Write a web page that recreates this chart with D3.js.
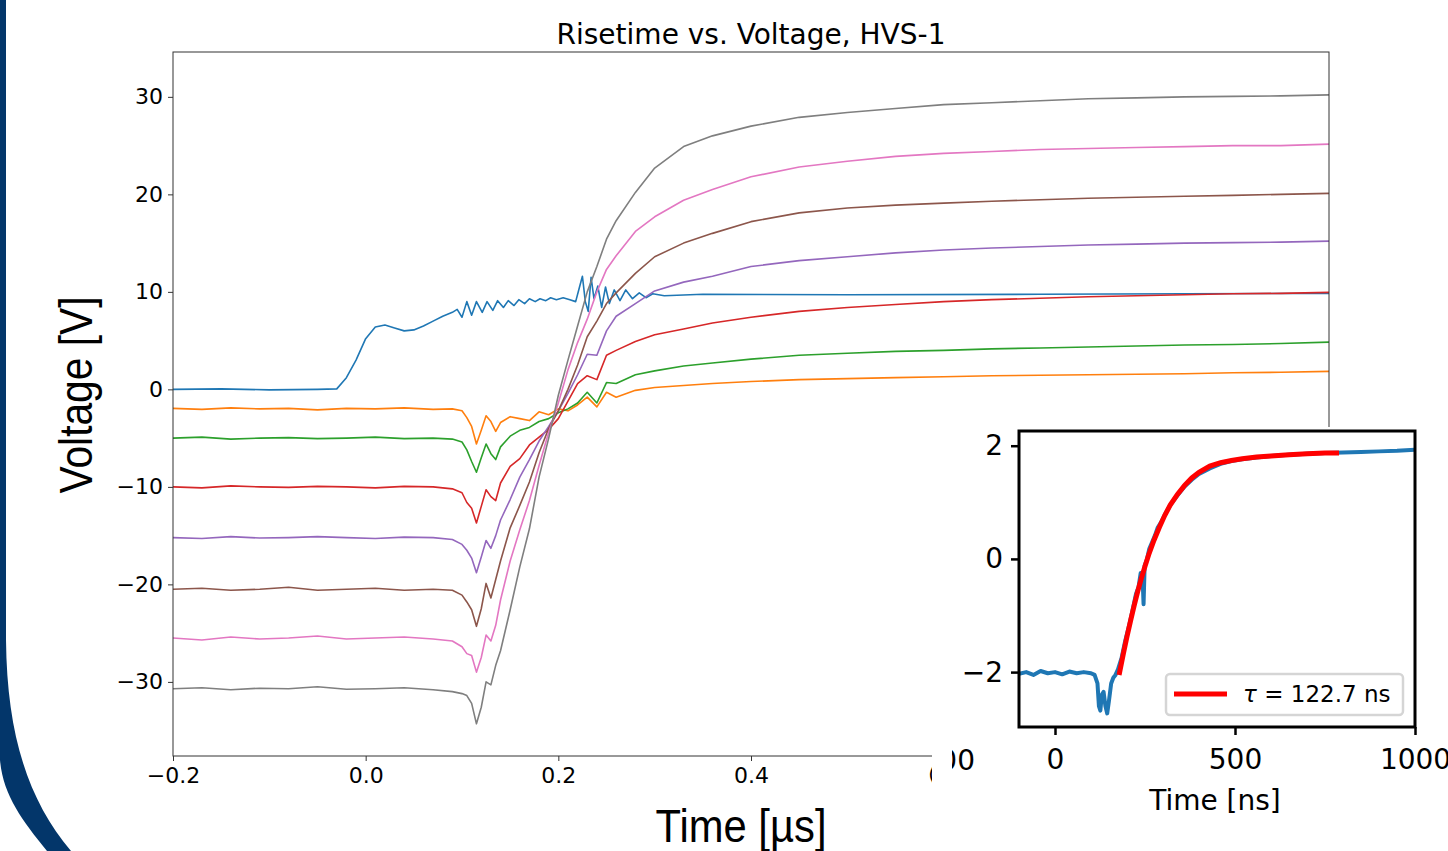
<!DOCTYPE html>
<html lang="en">
<head>
<meta charset="UTF-8">
<title>Risetime vs. Voltage, HVS-1</title>
<script src="https://d3js.org/d3.v7.min.js"></script>
<style>
  body { margin: 0; background: #fff; }
  svg text { font-family: "DejaVu Sans", sans-serif; fill: #000; }
</style>
</head>
<body>
<div id="chart"></div>
<script>
// ---- data ----
const timeUs = [-0.20, -0.17, -0.14, -0.11, -0.08, -0.05, -0.02, 0.01, 0.04, 0.07,
  0.09, 0.10, 0.105, 0.11, 0.115, 0.12, 0.125, 0.13, 0.135, 0.14,
  0.15, 0.16, 0.17, 0.18, 0.19, 0.20, 0.21, 0.22, 0.23, 0.24,
  0.25, 0.26, 0.28, 0.30, 0.33, 0.36, 0.40, 0.45, 0.50, 0.55,
  0.60, 0.65, 0.70, 0.75, 0.80, 0.85, 0.90, 0.95, 1.00]

const orangeV = [-1.95, -2.05, -1.9, -2.0, -1.95, -2.1, -1.95, -2.0, -1.9, -2.05,
  -2.0, -2.2, -2.9, -3.8, -5.6, -4.2, -2.7, -3.3, -4.3, -3.4,
  -2.8, -3.0, -3.2, -2.3, -2.6, -2.0, -2.2, -1.6, -0.8, -1.8,
  -0.3, -0.8, -0.1, 0.2, 0.4, 0.6, 0.8, 1.0, 1.1, 1.2,
  1.3, 1.4, 1.45, 1.5, 1.55, 1.6, 1.7, 1.75, 1.85]
const greenV = [-5.0, -4.9, -5.1, -5.0, -4.95, -5.05, -5.0, -4.9, -5.05, -5.0,
  -5.1, -5.4, -6.2, -7.4, -8.5, -7.0, -5.6, -6.6, -7.2, -5.9,
  -4.8, -4.2, -3.9, -3.3, -3.0, -2.4, -2.0, -1.4, -0.3, -1.4,
  0.7, 0.6, 1.5, 1.9, 2.4, 2.7, 3.1, 3.5, 3.7, 3.9,
  4.0, 4.15, 4.25, 4.35, 4.45, 4.55, 4.6, 4.7, 4.85]
const redV = [-10.0, -10.1, -9.9, -10.0, -10.05, -9.95, -10.0, -10.1, -9.95, -10.0,
  -10.2, -10.6, -11.6, -12.2, -13.7, -12.0, -10.3, -11.0, -11.4, -9.6,
  -7.9, -7.1, -5.7, -4.9, -4.1, -3.0, -1.2, 0.6, 1.4, 1.0,
  3.5, 4.0, 4.9, 5.6, 6.2, 6.8, 7.4, 8.0, 8.4, 8.7,
  9.0, 9.2, 9.35, 9.5, 9.6, 9.7, 9.8, 9.85, 9.95]
const purpleV = [-15.2, -15.3, -15.1, -15.25, -15.2, -15.1, -15.2, -15.3, -15.15, -15.2,
  -15.4, -15.9, -16.5, -17.3, -18.8, -17.2, -15.5, -16.3, -15.0, -13.4,
  -11.3, -9.0, -7.2, -5.3, -3.8, -2.2, -0.4, 1.5, 3.6, 3.5,
  6.0, 7.5, 8.8, 10.1, 11.0, 11.6, 12.6, 13.2, 13.6, 14.0,
  14.3, 14.5, 14.65, 14.8, 14.9, 15.0, 15.05, 15.1, 15.2]
const brownV = [-20.5, -20.4, -20.6, -20.5, -20.3, -20.6, -20.5, -20.4, -20.6, -20.5,
  -20.6, -21.1, -21.8, -22.6, -24.3, -22.5, -19.9, -21.4, -19.5, -17.6,
  -14.2, -11.9, -9.5, -6.5, -4.0, -2.2, 0.0, 2.5, 5.4, 7.0,
  8.8, 9.9, 11.9, 13.6, 15.0, 16.0, 17.2, 18.1, 18.6, 18.9,
  19.1, 19.3, 19.45, 19.6, 19.7, 19.8, 19.9, 20.0, 20.1]
const pinkV = [-25.5, -25.7, -25.4, -25.6, -25.5, -25.3, -25.6, -25.5, -25.4, -25.6,
  -25.8, -26.4, -27.1, -27.3, -29.0, -27.5, -25.2, -25.8, -24.2, -21.6,
  -17.6, -14.4, -11.4, -7.8, -4.4, -1.4, 2.0, 4.8, 7.2, 10.0,
  12.3, 13.7, 16.2, 17.7, 19.4, 20.5, 21.8, 22.8, 23.4, 23.9,
  24.2, 24.4, 24.6, 24.7, 24.8, 24.9, 25.0, 25.0, 25.15]
const grayV = [-30.7, -30.6, -30.8, -30.65, -30.7, -30.5, -30.75, -30.7, -30.6, -30.8,
  -31.0, -31.2, -31.4, -32.2, -34.3, -32.6, -30.0, -30.3, -28.3, -26.8,
  -22.6, -18.2, -14.3, -9.0, -5.0, -0.6, 3.0, 6.5, 10.0, 12.6,
  15.4, 17.3, 20.2, 22.7, 24.9, 26.0, 27.0, 27.9, 28.4, 28.8,
  29.2, 29.4, 29.6, 29.8, 29.9, 30.0, 30.05, 30.1, 30.2]

// the unbiased trace has its own sampling (ringing)
const blueTimeUs = [-0.20, -0.15, -0.10, -0.05, -0.03, -0.02, -0.01, 0.0, 0.01, 0.02,
  0.03, 0.04, 0.05, 0.06, 0.07, 0.08, 0.09, 0.095, 0.100, 0.105,
  0.110, 0.115, 0.121, 0.126, 0.132, 0.137, 0.143, 0.148, 0.154, 0.159,
  0.165, 0.170, 0.176, 0.181, 0.187, 0.192, 0.198, 0.205, 0.212, 0.218,
  0.222, 0.225, 0.228, 0.231, 0.234, 0.237, 0.241, 0.245, 0.249, 0.253,
  0.258, 0.264, 0.270, 0.277, 0.284, 0.291, 0.298, 0.31, 0.35, 0.50,
  0.70, 0.85, 1.00]
const blueV = [0.0, 0.05, -0.05, 0.0, 0.05, 1.2, 3.0, 5.2, 6.4, 6.6,
  6.3, 6.0, 6.1, 6.5, 7.0, 7.5, 7.9, 8.2, 7.4, 9.0,
  7.6, 9.0, 7.9, 9.0, 8.1, 9.1, 8.4, 9.1, 8.6, 9.2,
  8.8, 9.3, 9.0, 9.3, 9.1, 9.4, 9.2, 9.4, 9.2, 9.0,
  10.5, 11.6, 9.0, 8.0, 11.5, 9.3, 10.6, 8.4, 10.5, 8.8,
  10.2, 9.1, 10.2, 9.3, 9.9, 9.4, 9.8, 9.6, 9.75, 9.7,
  9.75, 9.8, 9.85]

const seriesNames = ["0 V", "2 V", "5 V", "10 V", "15 V", "20 V", "25 V", "30 V"]
const seriesColors = ["#1f77b4", "#ff7f0e", "#2ca02c", "#d62728", "#9467bd", "#8c564b", "#e377c2", "#7f7f7f"]

// inset: one trace in ns with its exponential fit
const insetTimeNs = [-100, -80, -60, -40, -20, 0, 20, 40, 60, 80,
  100, 110, 118, 122, 126, 130, 135, 140, 145, 150,
  156, 162, 168, 175, 185, 195, 205, 215, 225, 232,
  238, 243, 246, 249, 255, 262, 270, 278, 285, 295,
  305, 320, 340, 360, 380, 400, 430, 460, 490, 520,
  560, 600, 650, 700, 750, 800, 850, 900, 950, 1000]
const insetV = [-2.03, -2.0, -2.05, -1.98, -2.02, -2.0, -2.04, -1.99, -2.02, -2.0,
  -2.02, -2.05, -2.2, -2.6, -2.68, -2.4, -2.35, -2.6, -2.73, -2.5,
  -2.2, -2.1, -2.05, -1.95, -1.75, -1.45, -1.2, -0.92, -0.62, -0.5,
  -0.25, -0.28, -0.8, -0.12, -0.02, 0.18, 0.3, 0.42, 0.55, 0.65,
  0.78, 0.95, 1.12, 1.28, 1.4, 1.5, 1.6, 1.68, 1.73, 1.76,
  1.79, 1.82, 1.84, 1.86, 1.87, 1.88, 1.89, 1.9, 1.91, 1.93]
const fitTimeNs = [178, 190, 200, 210, 220, 230, 240, 250, 260, 275,
  290, 305, 320, 340, 360, 380, 400, 430, 460, 490,
  520, 560, 600, 650, 700, 750, 789]
const fitV = [-2.05, -1.67, -1.37, -1.09, -0.82, -0.57, -0.34, -0.13, 0.07, 0.33,
  0.56, 0.77, 0.95, 1.14, 1.30, 1.43, 1.53, 1.64, 1.70, 1.74,
  1.77, 1.80, 1.82, 1.84, 1.86, 1.87, 1.87]
const fitLabel = "122.7 ns"

const mainXTicks = [-0.2, 0.0, 0.2, 0.4, 0.6, 0.8, 1.0]
const mainYTicks = [-30, -20, -10, 0, 10, 20, 30]
const insetXTicks = [0, 500, 1000]
const insetYTicks = [-2, 0, 2]

// ---- layout ----
const W = 1448, H = 851
const MAIN = { LEFT: 173, RIGHT: 1329, TOP: 52, BOTTOM: 756 }
const INSET = { LEFT: 1019, RIGHT: 1415, TOP: 431, BOTTOM: 727 }

const svg = d3.select("#chart").append("svg")
  .attr("width", W).attr("height", H)
  .style("display", "block")

svg.append("rect").attr("width", W).attr("height", H).attr("fill", "#fff")

// slide border on the left
svg.append("path")
  .attr("d", "M0,0 L6,0 L6,640 C7,735 28,800 71,851 L47,851 C22,820 3,795 0,760 Z")
  .attr("fill", "#03366a")

// ---- main axes ----
const x = d3.scaleLinear().domain([-0.2, 1.0]).range([MAIN.LEFT, MAIN.RIGHT])
const y = d3.scaleLinear().domain([-37.6, 34.6]).range([MAIN.BOTTOM, MAIN.TOP])

const g = svg.append("g")

g.append("clipPath").attr("id", "mainClip")
  .append("rect")
  .attr("x", MAIN.LEFT).attr("y", MAIN.TOP)
  .attr("width", MAIN.RIGHT - MAIN.LEFT).attr("height", MAIN.BOTTOM - MAIN.TOP)

const line = d3.line().x(d => x(d[0])).y(d => y(d[1]))

const biased = [orangeV, greenV, redV, purpleV, brownV, pinkV, grayV]
const traces = [d3.zip(blueTimeUs, blueV)].concat(biased.map(v => d3.zip(timeUs, v)))

g.append("g").attr("clip-path", "url(#mainClip)")
  .selectAll("path").data(traces).join("path")
  .attr("d", line)
  .attr("fill", "none")
  .attr("stroke", (d, i) => seriesColors[i])
  .attr("stroke-width", 1.6)
  .attr("stroke-linejoin", "round")

g.append("rect")
  .attr("x", MAIN.LEFT).attr("y", MAIN.TOP)
  .attr("width", MAIN.RIGHT - MAIN.LEFT).attr("height", MAIN.BOTTOM - MAIN.TOP)
  .attr("fill", "none").attr("stroke", "#333").attr("stroke-width", 1)

// only the ticks left of the inset show; 0.6 is cut by the pasted inset
const xAxis = g.append("g")
  .attr("transform", `translate(0,${MAIN.BOTTOM})`)
  .call(d3.axisBottom(x).tickValues(mainXTicks.filter(v => x(v) < 950)).tickFormat(d3.format(".1f")).tickSize(5).tickPadding(6))
const yAxis = g.append("g")
  .attr("transform", `translate(${MAIN.LEFT},0)`)
  .call(d3.axisLeft(y).tickValues(mainYTicks).tickSize(5).tickPadding(5))
for (const a of [xAxis, yAxis]) {
  a.select(".domain").remove()
  a.selectAll("line").attr("stroke", "#333")
  a.selectAll("text").style("font-size", "22px").style("font-family", "DejaVu Sans")
}
// the tick label under the inset keeps only its left sliver
xAxis.selectAll(".tick").filter(d => x(d) > 932).select("text").text("(")
  .attr("dx", "-12px").style("font-size", "20px")

g.append("text")
  .attr("x", (MAIN.LEFT + MAIN.RIGHT) / 2).attr("y", 44)
  .attr("text-anchor", "middle")
  .style("font-size", "28px")
  .text("Risetime vs. Voltage, HVS-1")

// condensed axis labels
function narrowLabel(cx, cy, rot, txt, targetW) {
  const t = g.append("text")
    .attr("text-anchor", "middle")
    .style("font-family", "Liberation Sans, Arial, sans-serif")
    .style("font-size", "46px")
    .text(txt)
  const sx = targetW / t.node().getComputedTextLength()
  t.attr("transform", `translate(${cx},${cy}) rotate(${rot}) scale(${sx},1)`)
}
narrowLabel(741, 842, 0, "Time [µs]", 171)
narrowLabel(92, 395, -90, "Voltage [V]", 197)

// ---- inset ----
svg.append("rect").attr("x", 932).attr("y", 427).attr("width", W - 932).attr("height", H - 427).attr("fill", "#fff")

// stray tick label fragment from the cropped inset figure
svg.append("clipPath").attr("id", "fragClip")
  .append("rect").attr("x", 952).attr("y", 730).attr("width", 40).attr("height", 50)
svg.append("text").attr("clip-path", "url(#fragClip)")
  .attr("x", 975).attr("y", 770).attr("text-anchor", "end")
  .style("font-size", "28px").text("00")

const xi = d3.scaleLinear().domain([-100, 1000]).range([INSET.LEFT, INSET.RIGHT])
const yi = d3.scaleLinear().domain([-2.97, 2.26]).range([INSET.BOTTOM, INSET.TOP])
const gi = svg.append("g")

gi.append("clipPath").attr("id", "insetClip")
  .append("rect")
  .attr("x", INSET.LEFT).attr("y", INSET.TOP)
  .attr("width", INSET.RIGHT - INSET.LEFT).attr("height", INSET.BOTTOM - INSET.TOP)

const lineI = d3.line().x(d => xi(d[0])).y(d => yi(d[1]))
const gl = gi.append("g").attr("clip-path", "url(#insetClip)")
gl.append("path").datum(d3.zip(insetTimeNs, insetV))
  .attr("d", lineI).attr("fill", "none")
  .attr("stroke", seriesColors[0]).attr("stroke-width", 4).attr("stroke-linejoin", "round")
gl.append("path").datum(d3.zip(fitTimeNs, fitV))
  .attr("d", lineI).attr("fill", "none")
  .attr("stroke", "#ff0000").attr("stroke-width", 5)

const xiAxis = gi.append("g")
  .attr("transform", `translate(0,${INSET.BOTTOM})`)
  .call(d3.axisBottom(xi).tickValues(insetXTicks).tickFormat(d3.format("d")).tickSize(8).tickPadding(14))
const yiAxis = gi.append("g")
  .attr("transform", `translate(${INSET.LEFT},0)`)
  .call(d3.axisLeft(yi).tickValues(insetYTicks).tickFormat(d3.format("d")).tickSize(8).tickPadding(8))
for (const a of [xiAxis, yiAxis]) {
  a.select(".domain").remove()
  a.selectAll("line").attr("stroke", "#000").attr("stroke-width", 2.5)
  a.selectAll("text").style("font-size", "28px").style("font-family", "DejaVu Sans")
}

gi.append("rect")
  .attr("x", INSET.LEFT).attr("y", INSET.TOP)
  .attr("width", INSET.RIGHT - INSET.LEFT).attr("height", INSET.BOTTOM - INSET.TOP)
  .attr("fill", "none").attr("stroke", "#000").attr("stroke-width", 3)

gi.append("text")
  .attr("x", (INSET.LEFT + INSET.RIGHT) / 2 - 2).attr("y", 810)
  .attr("text-anchor", "middle")
  .style("font-size", "28px")
  .text("Time [ns]")

// legend
const lg = gi.append("g").attr("transform", "translate(1166,674)")
lg.append("rect").attr("width", 237).attr("height", 41).attr("rx", 4)
  .attr("fill", "#fff").attr("stroke", "#d5d5d5").attr("stroke-width", 2.5)
lg.append("line").attr("x1", 8).attr("x2", 61).attr("y1", 20).attr("y2", 20)
  .attr("stroke", "#ff0000").attr("stroke-width", 5)
const lt = lg.append("text").attr("x", 77).attr("y", 28).style("font-size", "23px")
lt.append("tspan").style("font-style", "italic").text("τ")
lt.append("tspan").text(" = " + fitLabel)
</script>
</body>
</html>
